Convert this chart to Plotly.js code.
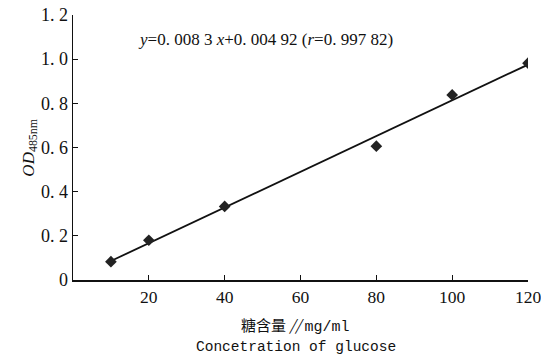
<!DOCTYPE html>
<html><head><meta charset="utf-8">
<script src="https://cdn.plot.ly/plotly-3.0.1.min.js"></script>
<style>body{margin:0;background:#fff}#c{width:541px;height:357px}</style>
</head><body><div id="c"></div>
<script>
const glucose = [10, 20, 40, 80, 100, 120];
const od = [0.083, 0.18, 0.333, 0.606, 0.838, 0.982];
const yTickVals = [0, 0.2, 0.4, 0.6, 0.8, 1.0, 1.2];
const yTickText = ['0', '0. 2', '0. 4', '0. 6', '0. 8', '1. 0', '1. 2'];
const xTickVals = [20, 40, 60, 80, 100, 120];
const xTickText = ['20', '40', '60', '80', '100', '120'];

// least squares fit line through the data
const n = glucose.length;
const mx = glucose.reduce((a,b)=>a+b,0)/n, my = od.reduce((a,b)=>a+b,0)/n;
let sxy=0, sxx=0;
for (let i=0;i<n;i++){ sxy+=(glucose[i]-mx)*(od[i]-my); sxx+=(glucose[i]-mx)**2; }
const slope = sxy/sxx, icpt = my - slope*mx;
const fitX = [glucose[0], glucose[n-1]];
const fitY = fitX.map(x=>slope*x+icpt);

const serif = 'Liberation Serif';
const data = [
  {x: fitX, y: fitY, mode:'lines', line:{color:'#111', width:1.8}, hoverinfo:'skip'},
  {x: glucose, y: od, mode:'markers', marker:{symbol:'diamond', size:9, color:'#222'}}
];
const layout = {
  width:541, height:357, showlegend:false,
  margin:{l:73, r:13, t:15, b:77},
  paper_bgcolor:'#fff', plot_bgcolor:'#fff',
  font:{family:serif, color:'#111', size:16},
  xaxis:{range:[0,120], showline:true, linecolor:'#111', linewidth:1.5, zeroline:false, showgrid:false,
    ticks:'inside', ticklen:5, tickwidth:1.2, tickcolor:'#111', tickvals:xTickVals, ticktext:xTickText,
    tickfont:{family:serif, size:17.5}, ticklabeloverflow:'allow'},
  yaxis:{range:[0,1.2], showline:true, linecolor:'#111', linewidth:1.5, zeroline:false, showgrid:false,
    ticks:'inside', ticklen:5, tickwidth:1.2, tickcolor:'#111', tickvals:yTickVals, ticktext:yTickText,
    tickfont:{family:serif, size:18}},
  annotations:[
    {xref:'paper', yref:'paper', x:0.422, y:0.95, showarrow:false, font:{family:serif, size:17},
     text:'<i>y</i>=0. 008 3 <i>x</i>+0. 004 92 (<i>r</i>=0. 997 82)'},
    {xref:'paper', yref:'paper', x:-0.125, y:0.50, showarrow:false, textangle:-90, font:{family:serif, size:17},
     text:'<i>OD</i><sub>485nm</sub>'},
    {xref:'paper', yref:'paper', x:0.49, y:-0.22, showarrow:false, font:{family:'Noto Sans CJK SC', size:15},
     text:'糖含量 <i>//</i> <span style="font-family:Liberation Mono">mg/ml</span>'},
    {xref:'paper', yref:'paper', x:0.49, y:-0.292, showarrow:false, font:{family:'Liberation Mono', size:14.5},
     text:'Concetration of glucose'}
  ]
};
Plotly.newPlot('c', data, layout, {staticPlot:true});
</script></body></html>
